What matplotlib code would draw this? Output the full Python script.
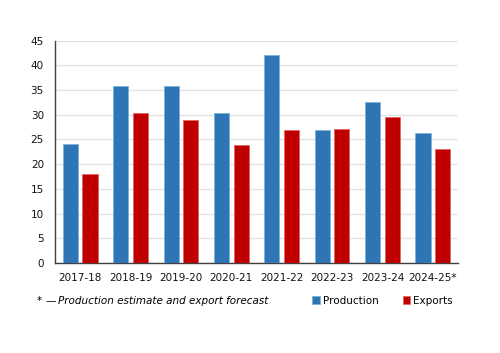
import numpy as np
import matplotlib.pyplot as plt

years = ['2017-18', '2018-19', '2019-20', '2020-21', '2021-22', '2022-23', '2023-24', '2024-25*']
production = [24.1, 35.8, 35.9, 30.3, 42.1, 27.0, 32.5, 26.4]
exports = [18.0, 30.3, 29.0, 23.9, 27.0, 27.1, 29.5, 23.1]

blue = '#2E75B6'
red = '#C00000'

plt.rcParams['font.family'] = 'DejaVu Sans'

fig = plt.figure(figsize=(5.0, 3.53), dpi=100)
ax = fig.add_axes([0.11, 0.255, 0.806, 0.63])

x = np.arange(len(years))
w = 0.3
ax.bar(x - 0.195, production, w, color=blue, edgecolor='#7FB0DA', linewidth=0.6,
       label='Production', zorder=3)
ax.bar(x + 0.195, exports, w, color=red, edgecolor='#E06666', linewidth=0.6,
       label='Exports', zorder=3)

ax.set_xlim(-0.5, len(years) - 0.5)
ax.set_ylim(0, 45)
ax.set_yticks(range(0, 46, 5))
ax.set_xticks(x)
ax.set_xticklabels(years)
ax.tick_params(axis='both', length=0, labelsize=7.5, colors='#111111')
ax.tick_params(axis='x', pad=7)
ax.tick_params(axis='y', pad=8)

ax.grid(axis='y', color='#E3E3E3', linewidth=1, zorder=0)
for s in ['top', 'right']:
    ax.spines[s].set_visible(False)
for s in ['left', 'bottom']:
    ax.spines[s].set_color('#404040')
    ax.spines[s].set_linewidth(1)

# footnote: asterisk and dash upright, the rest italic
fig.text(0.074, 0.148, '*', fontsize=7.5, ha='left', va='center')
fig.text(0.09, 0.148, '\u2014', fontsize=7.5, ha='left', va='center')
fig.text(0.116, 0.148, 'Production estimate and export forecast', fontsize=7.5,
         style='italic', ha='left', va='center')

ax.legend(loc='center', bbox_to_anchor=(0.765, 0.148), bbox_transform=fig.transFigure,
          ncol=2, frameon=False, fontsize=7.5, handlelength=0.7, handleheight=0.7,
          handletextpad=0.3, columnspacing=2.3)

fig.savefig('out.png', dpi=100)
